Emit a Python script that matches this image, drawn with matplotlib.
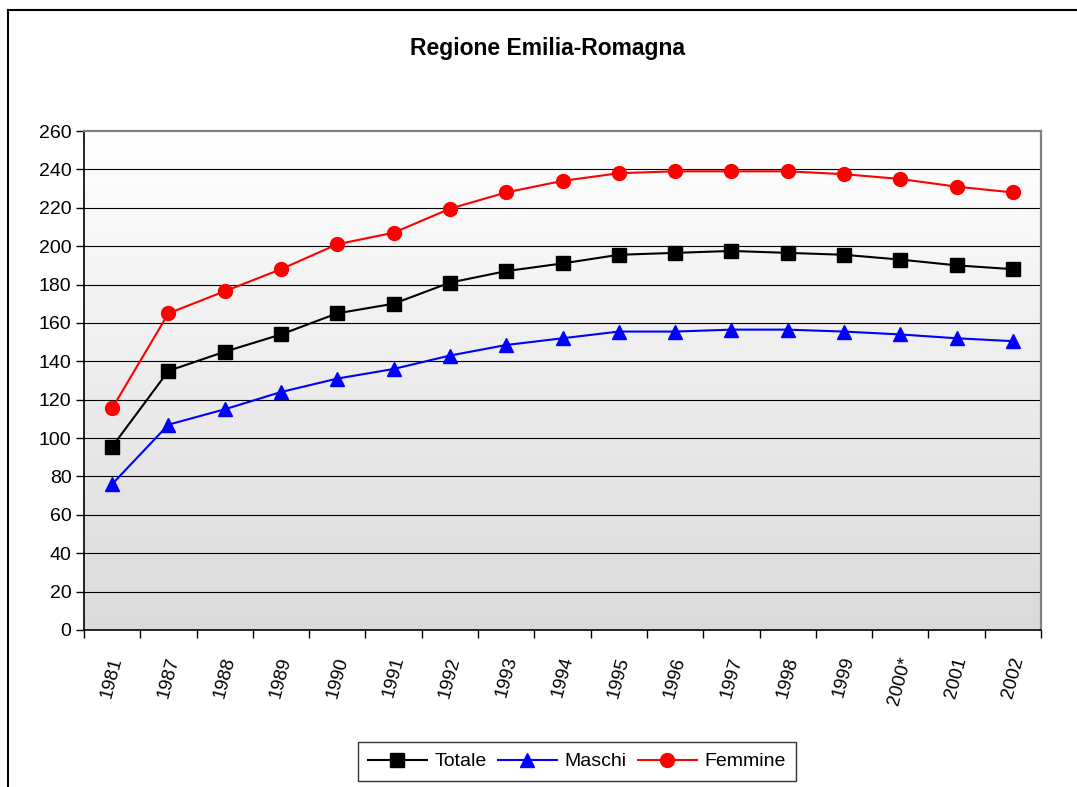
import numpy as np
import matplotlib
matplotlib.use("Agg")
import matplotlib.pyplot as plt
from matplotlib.lines import Line2D
from matplotlib.colors import LinearSegmentedColormap

plt.rcParams['font.family'] = ['Liberation Sans', 'DejaVu Sans']

# Data
years = ['1981', '1987', '1988', '1989', '1990', '1991', '1992', '1993', '1994',
         '1995', '1996', '1997', '1998', '1999', '2000*', '2001', '2002']
totale = [95.5, 135, 145, 154, 165, 170, 181, 187, 191,
          195.5, 196.5, 197.5, 196.5, 195.5, 193, 190, 188]
maschi = [76, 107, 115, 124, 131, 136, 143, 148.5, 152,
          155.5, 155.5, 156.5, 156.5, 155.5, 154, 152, 150.5]
femmine = [115.5, 165, 176.5, 188, 201, 207, 219.5, 228, 234,
           238, 239, 239, 239, 237.5, 235, 231, 228]

W, H = 1077, 787
fig = plt.figure(figsize=(W / 100, H / 100), dpi=100)
ax = fig.add_axes([84 / W, 1 - 630 / H, (1041 - 84) / W, (630 - 131) / H])

x = np.arange(len(years))

# Gradient background: light grey at the bottom, white at the top
grad = np.linspace(0, 1, 256).reshape(-1, 1)
bg_cmap = LinearSegmentedColormap.from_list('bg', ['#dadada', '#ffffff'])
ax.imshow(grad, cmap=bg_cmap, aspect='auto', origin='lower',
          extent=[-0.5, len(years) - 0.5, 0, 260], zorder=0)

ax.set_xlim(-0.5, len(years) - 0.5)
ax.set_ylim(0, 260)

# Gridlines
ax.set_yticks(np.arange(0, 261, 20))
for yv in np.arange(20, 260, 20):
    ax.axhline(yv, color='black', lw=0.8, zorder=1)

ax.plot(x, totale, color='black', lw=1.5, marker='s', ms=10, label='Totale', zorder=3)
ax.plot(x, maschi, color='blue', lw=1.5, marker='^', ms=10, label='Maschi', zorder=3)
ax.plot(x, femmine, color='red', lw=1.5, marker='o', ms=10, label='Femmine', zorder=3)

# Axes styling
for side in ['top', 'right']:
    ax.spines[side].set_color('#808080')
    ax.spines[side].set_linewidth(1.6)
for side in ['left', 'bottom']:
    ax.spines[side].set_color('black')
    ax.spines[side].set_linewidth(1.2)

ax.set_xticks(x)
ax.set_xticklabels(years, rotation=75, fontsize=13.5, ha='center', va='top')
ax.set_xticks(np.arange(-0.5, len(years)), minor=True)
ax.tick_params(axis='x', which='major', length=0, pad=18)
ax.tick_params(axis='x', which='minor', length=6, direction='out', width=1)
ax.tick_params(axis='y', length=6, direction='out', width=1, labelsize=14, pad=3)

fig.text(0.508, 1 - 48 / H, 'Regione Emilia-Romagna', ha='center', va='center',
         fontsize=16.5, fontweight='bold')

leg = fig.legend(loc='upper center', bbox_to_anchor=(577 / W, 1 - 742 / H),
                 ncol=3, fontsize=14, frameon=True, fancybox=False,
                 edgecolor='black', handlelength=3.0, handletextpad=0.4,
                 columnspacing=0.6, borderpad=0.55, borderaxespad=0)
leg.get_frame().set_linewidth(1.0)

# Outer chart frame
fig.add_artist(Line2D([8 / W, 1], [1 - 10 / H, 1 - 10 / H], color='black', lw=1.5))
fig.add_artist(Line2D([8 / W, 8 / W], [0, 1 - 10 / H], color='black', lw=1.5))

fig.savefig('out.png', dpi=100)
